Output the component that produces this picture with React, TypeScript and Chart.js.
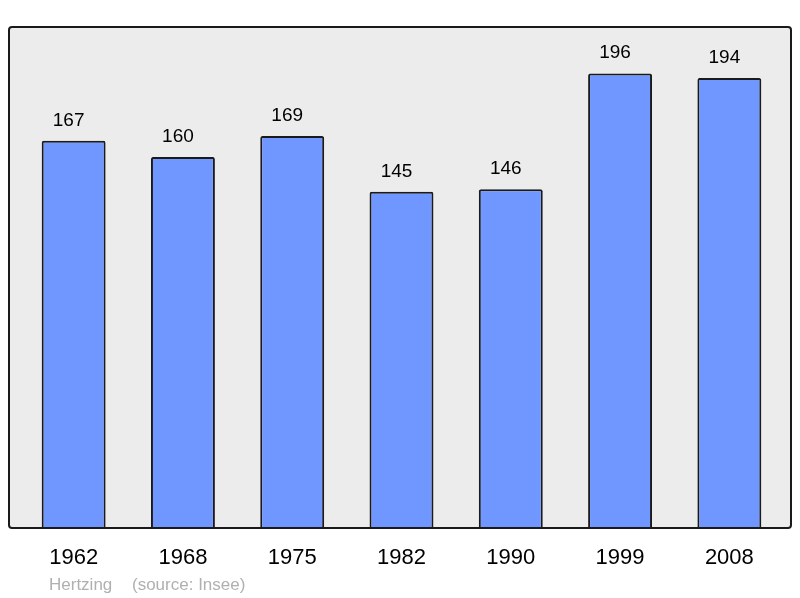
import React, { useEffect, useRef } from "react";
import { Chart, registerables } from "chart.js";

Chart.register(...registerables);

const years = ["1962", "1968", "1975", "1982", "1990", "1999", "2008"];
const population = [167, 160, 169, 145, 146, 196, 194];
const yMax = 216;
const creditText = "Hertzing";
const sourceText = "(source: Insee)";

const FONT = "'Liberation Sans', Arial, sans-serif";

export default function App() {
  const ref = useRef<HTMLCanvasElement>(null);

  useEffect(() => {
    if (!ref.current) return;

    const framePlugin = {
      id: "frame",
      beforeDatasetsDraw(chart: any) {
        const ctx = chart.ctx;
        const a = chart.chartArea;
        const x0 = a.left - 10, x1 = a.right + 7, y0 = a.top, y1 = a.bottom;
        ctx.save();
        ctx.beginPath();
        ctx.roundRect(x0, y0, x1 - x0, y1 - y0, 3);
        ctx.fillStyle = "#ececec";
        ctx.fill();
        ctx.restore();
      },
      afterDatasetsDraw(chart: any) {
        const ctx = chart.ctx;
        const a = chart.chartArea;
        const x0 = a.left - 10, x1 = a.right + 7, y0 = a.top, y1 = a.bottom;
        ctx.save();
        ctx.beginPath();
        ctx.roundRect(x0, y0, x1 - x0, y1 - y0, 3);
        ctx.lineWidth = 2;
        ctx.strokeStyle = "#1a1a1a";
        ctx.stroke();

        // value labels
        const meta = chart.getDatasetMeta(0);
        ctx.fillStyle = "#000";
        ctx.font = `19px ${FONT}`;
        ctx.textAlign = "center";
        ctx.textBaseline = "alphabetic";
        meta.data.forEach((bar: any, i: number) => {
          ctx.fillText(String(population[i]), bar.x - 5, bar.y - 15);
        });

        // credits
        ctx.fillStyle = "#b0b0b0";
        ctx.font = `17px ${FONT}`;
        ctx.textAlign = "left";
        ctx.fillText(creditText, 49, 590);
        ctx.fillText(sourceText, 132, 590);
        ctx.restore();
      },
    };

    const chart = new Chart(ref.current, {
      type: "bar",
      data: {
        labels: years,
        datasets: [
          {
            data: population,
            backgroundColor: "#7097ff",
            borderColor: "#1a1a1a",
            borderWidth: 2,
            borderRadius: 2,
            barPercentage: 0.585,
            categoryPercentage: 1,
          },
        ],
      },
      options: {
        responsive: false,
        animation: false,
        layout: { padding: { left: 19, right: 16, top: 27, bottom: 30 } },
        plugins: {
          legend: { display: false },
          tooltip: { enabled: false },
        },
        scales: {
          x: {
            grid: { display: false, drawTicks: false },
            border: { display: false },
            ticks: {
              color: "#000",
              font: { size: 22, family: FONT },
              padding: 17,
              maxRotation: 0,
            },
            afterFit(scale: any) {
              scale.height = 40;
            },
          },
          y: {
            display: false,
            min: 0,
            max: yMax,
          },
        },
      },
      plugins: [framePlugin],
    });

    return () => chart.destroy();
  }, []);

  return (
    <canvas
      ref={ref}
      width={800}
      height={598}
      style={{ position: "absolute", left: 0, top: 0, display: "block", background: "#fff" }}
    />
  );
}
